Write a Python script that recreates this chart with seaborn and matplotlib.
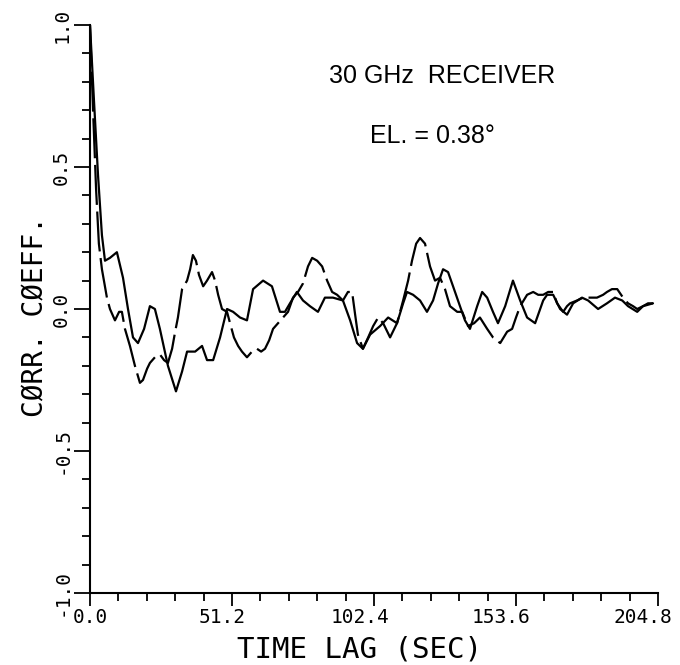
import pandas as pd
import seaborn as sns
import matplotlib.pyplot as plt
import matplotlib.transforms as mtransforms
from matplotlib.ticker import FixedLocator, MultipleLocator

# Correlation coefficient vs. time lag
# solid trace
lag_a = [0.0, 1.4, 2.9, 4.3, 5.4, 7.2, 9.7, 11.9, 13.7, 15.5, 17.3, 19.5, 21.6, 23.4,
         25.2, 28.1, 31.0, 33.2, 35.0, 37.9, 40.4, 42.2, 44.4, 46.9, 49.4, 51.6, 54.1,
         56.6, 58.8, 62.4, 65.6, 68.5, 70.3, 72.1, 74.6, 76.8, 79.3, 82.2, 84.7, 87.6,
         91.2, 93.8, 96.3, 98.4, 101.0, 104.6, 107.5, 110.7, 112.9, 114.3, 116.5, 119.0,
         121.5, 123.7, 125.5, 127.3, 129.1, 130.9, 133.4, 135.2, 137.0, 139.6, 141.4,
         143.2, 145.3, 147.1, 149.7, 152.5, 155.1, 157.6, 160.5, 163.4, 164.8, 167.0,
         169.5, 172.0, 174.2, 177.4, 179.6, 183.2, 186.4, 189.3, 191.9, 194.0, 197.3,
         199.4, 203.0]
corr_a = [1.00, 0.74, 0.47, 0.26, 0.17, 0.18, 0.20, 0.11, 0.00, -0.10, -0.12, -0.07, 0.01, 0.00,
          -0.07, -0.20, -0.29, -0.22, -0.15, -0.15, -0.13, -0.18, -0.18, -0.10, 0.00, -0.01, -0.03,
          -0.04, 0.07, 0.10, 0.08, -0.01, -0.01, 0.02, 0.06, 0.03, 0.01, -0.01, 0.04, 0.04,
          0.03, -0.04, -0.12, -0.14, -0.09, -0.06, -0.03, -0.05, 0.02, 0.06, 0.05, 0.03,
          -0.01, 0.03, 0.09, 0.14, 0.13, 0.08, 0.01, -0.04, -0.07, 0.01, 0.06,
          0.04, -0.01, -0.05, 0.01, 0.10, 0.03, -0.03, -0.05, 0.03, 0.05, 0.05,
          0.00, -0.02, 0.02, 0.04, 0.03, 0.00, 0.02, 0.04, 0.03, 0.01, -0.01,
          0.01, 0.02]

# broken (dashed) trace
lag_b = [0.0, 1.1, 2.2, 3.2, 4.3, 6.1, 7.2, 9.0, 10.5, 11.5, 12.6, 14.4, 16.2, 18.0, 19.1,
         20.6, 21.6, 23.4, 25.2, 26.7, 28.1, 29.6, 30.7, 31.7, 33.2, 35.0, 36.1, 37.1,
         38.2, 39.3, 40.8, 42.2, 44.0, 45.1, 46.2, 47.6, 49.4, 50.5, 51.9, 53.4, 54.8,
         56.6, 58.4, 60.2, 61.7, 63.1, 64.6, 66.0, 67.8, 69.6, 71.4, 73.2, 75.0, 76.8,
         78.6, 80.1, 81.9, 83.7, 85.5, 87.3, 89.1, 91.2, 93.0, 94.5, 95.6, 96.6, 98.4,
         100.3, 102.1, 103.9, 105.7, 108.2, 110.7, 112.9, 114.7, 116.1, 117.6, 119.0,
         120.8, 122.6, 124.4, 126.2, 128.0, 129.8, 132.4, 134.2, 136.3, 138.5, 140.6,
         143.2, 145.3, 147.9, 150.4, 152.2, 153.6, 155.1, 157.6, 159.8, 161.6, 163.4,
         165.2, 167.0, 168.4, 170.6, 172.0, 173.1, 175.6, 177.8, 180.3, 182.8, 185.0,
         186.4, 188.2, 190.1, 192.2, 194.0, 195.8, 197.3, 199.4, 201.2, 203.0]
corr_b = [1.00, 0.70, 0.42, 0.23, 0.14, 0.04, 0.00, -0.04, -0.01, -0.01, -0.07, -0.13, -0.20, -0.26, -0.25,
          -0.21, -0.19, -0.17, -0.16, -0.18, -0.19, -0.14, -0.08, -0.03, 0.07, 0.10, 0.14, 0.19,
          0.17, 0.12, 0.08, 0.10, 0.13, 0.10, 0.05, 0.00, -0.01, -0.05, -0.10, -0.13, -0.15,
          -0.17, -0.15, -0.14, -0.15, -0.14, -0.11, -0.07, -0.05, -0.03, -0.01, 0.04, 0.06, 0.09,
          0.15, 0.18, 0.17, 0.15, 0.10, 0.06, 0.05, 0.03, 0.06, 0.06, -0.02, -0.09, -0.14,
          -0.10, -0.06, -0.03, -0.05, -0.10, -0.05, 0.03, 0.10, 0.17, 0.23, 0.25,
          0.23, 0.15, 0.10, 0.11, 0.07, 0.01, -0.01, -0.01, -0.06, -0.05, -0.03,
          -0.07, -0.10, -0.12, -0.08, -0.07, -0.03, 0.01, 0.05, 0.06, 0.05, 0.05,
          0.06, 0.06, 0.02, -0.01, 0.01, 0.02, 0.03, 0.04, 0.04, 0.04, 0.05,
          0.06, 0.07, 0.07, 0.04, 0.02, 0.01, 0.00, 0.01, 0.02, 0.02]

x_ticks = [0.0, 51.2, 102.4, 153.6, 204.8]
x_tick_labels = ["0.0", "51.2", "102.4", "153.6", "204.8"]
y_ticks = [-1.0, -0.5, 0.0, 0.5, 1.0]
y_tick_labels = ["-1.0", "-0.5", "0.0", "0.5", "1.0"]

sns.set_style("ticks")
plt.rcParams["font.family"] = ["DejaVu Sans Mono"]
plt.rcParams["axes.linewidth"] = 1.5
for key in ["text.color", "axes.labelcolor", "axes.edgecolor", "xtick.color", "ytick.color"]:
    plt.rcParams[key] = "black"

fig = plt.figure(figsize=(6.8, 6.65), dpi=100)
ax = fig.add_axes([90 / 680, 72 / 665, 568 / 680, 568 / 665])

sns.lineplot(x=lag_a, y=corr_a, ax=ax, color="black", linewidth=1.6,
             estimator=None, sort=False)
sns.lineplot(x=lag_b, y=corr_b, ax=ax, color="black", linewidth=1.6,
             estimator=None, sort=False, linestyle=(0, (18, 3)))

ax.set_xlim(0, 204.8)
ax.set_ylim(-1, 1)
sns.despine(ax=ax)

ax.xaxis.set_major_locator(FixedLocator(x_ticks))
ax.set_xticklabels(x_tick_labels)
ax.xaxis.set_minor_locator(MultipleLocator(10.24))
ax.yaxis.set_major_locator(FixedLocator(y_ticks))
ax.set_yticklabels(y_tick_labels)
ax.yaxis.set_minor_locator(MultipleLocator(0.1))

ax.tick_params(axis="x", which="major", direction="out", length=9.5, width=1.3,
               pad=1.5, labelsize=14)
ax.tick_params(axis="x", which="minor", direction="out", length=5.5, width=1.3)
ax.tick_params(axis="y", which="major", direction="out", length=11.5, width=1.3,
               pad=2, labelsize=14, labelrotation=90)
ax.tick_params(axis="y", which="minor", direction="out", length=5.5, width=1.3)

# plotter put the x labels slightly left of their ticks
x_label_shift = [0, -10, -14, -15, -15]
for tick, dx in zip(ax.xaxis.get_major_ticks(), x_label_shift):
    tick.label1.set_transform(tick.label1.get_transform()
                              + mtransforms.ScaledTranslation(dx / 100, 0, fig.dpi_scale_trans))
for lab in ax.get_yticklabels():
    lab.set_va("center")

ax.set_xlabel("TIME LAG (SEC)", fontsize=21)
ax.xaxis.set_label_coords(0.474, -0.074)
ax.set_ylabel("CØRR. CØEFF.", fontsize=20)
ax.yaxis.set_label_coords(-0.072, 0.486)

ax.text(126.9, 0.82, "30 GHz  RECEIVER", ha="center", va="center",
        fontsize=18, family="Liberation Sans")
ax.text(123.3, 0.61, "EL. = 0.38°", ha="center", va="center",
        fontsize=18, family="Liberation Sans")

fig.savefig("out.png", dpi=100)
